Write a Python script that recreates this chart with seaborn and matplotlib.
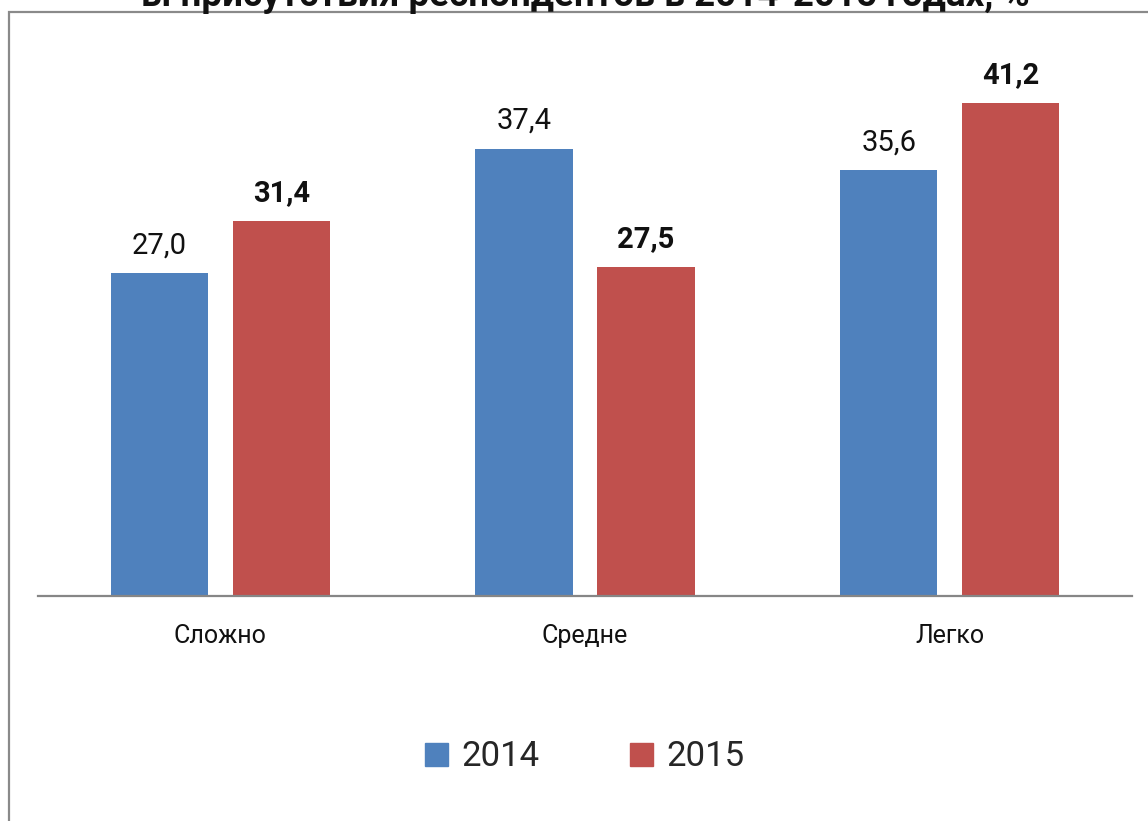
import seaborn as sns
import pandas as pd
import matplotlib.pyplot as plt
from matplotlib.patches import Rectangle

# Data
categories = ["Сложно", "Средне", "Легко"]
years = ["2014", "2015"]
values_2014 = [27.0, 37.4, 35.6]
values_2015 = [31.4, 27.5, 41.2]
title_text = "ы присутствия респондентов в 2014-2015 годах, %"

colors = {"2014": "#4F81BD", "2015": "#C0504D"}

sns.set_theme(style="white")
plt.rcParams['font.family'] = ['Roboto', 'DejaVu Sans']

df = pd.DataFrame({
    "category": categories * 2,
    "year": [years[0]] * 3 + [years[1]] * 3,
    "value": values_2014 + values_2015,
})

W, H = 1148, 821
fig = plt.figure(figsize=(W / 100, H / 100), dpi=100)
ax = fig.add_axes([38 / W, 225 / H, (1132 - 38) / W, 538 / H])

sns.barplot(data=df, x="category", y="value", hue="year", hue_order=years,
            palette=colors, width=0.668, gap=0.2, saturation=1,
            legend=False, ax=ax, edgecolor="none")

ax.set_xlim(-0.5, 2.5)
ax.set_ylim(0, 45)
ax.set_xlabel("")
ax.set_ylabel("")
ax.set_yticks([])
for s in ["top", "right", "left"]:
    ax.spines[s].set_visible(False)
ax.spines["bottom"].set_color("#868686")
ax.spines["bottom"].set_linewidth(1.6)
ax.tick_params(axis="x", length=0, pad=20, labelsize=18, labelcolor="#111111")

# value labels: 2014 normal, 2015 bold
for cont, vals, weight in zip(ax.containers, [values_2014, values_2015], ["normal", "bold"]):
    ax.bar_label(cont, labels=[f"{v:.1f}".replace(".", ",") for v in vals],
                 padding=10, fontsize=21, fontweight=weight, color="#111111")

# legend
handles = [Rectangle((0, 0), 1, 1, color=colors[y]) for y in years]
fig.legend(handles, years, loc="center", bbox_to_anchor=(585 / W, 1 - 757 / H),
           ncol=2, frameon=False, fontsize=25, handlelength=0.65, handleheight=0.65,
           handletextpad=0.4, columnspacing=2.6)

# title, cut off at the top edge as in the source image
fig.text(585 / W, 1 - 6 / H, title_text, ha="center", va="baseline",
         fontsize=26.5, fontweight="bold", color="#111111")

# outer frame, cut off at right and bottom
fig.patches.append(Rectangle((9 / W, -0.1), 1.2, 1.1 - 12 / H, transform=fig.transFigure,
                             fill=False, edgecolor="#8a8a8a", linewidth=1.6))

fig.savefig("out.png", dpi=100)
